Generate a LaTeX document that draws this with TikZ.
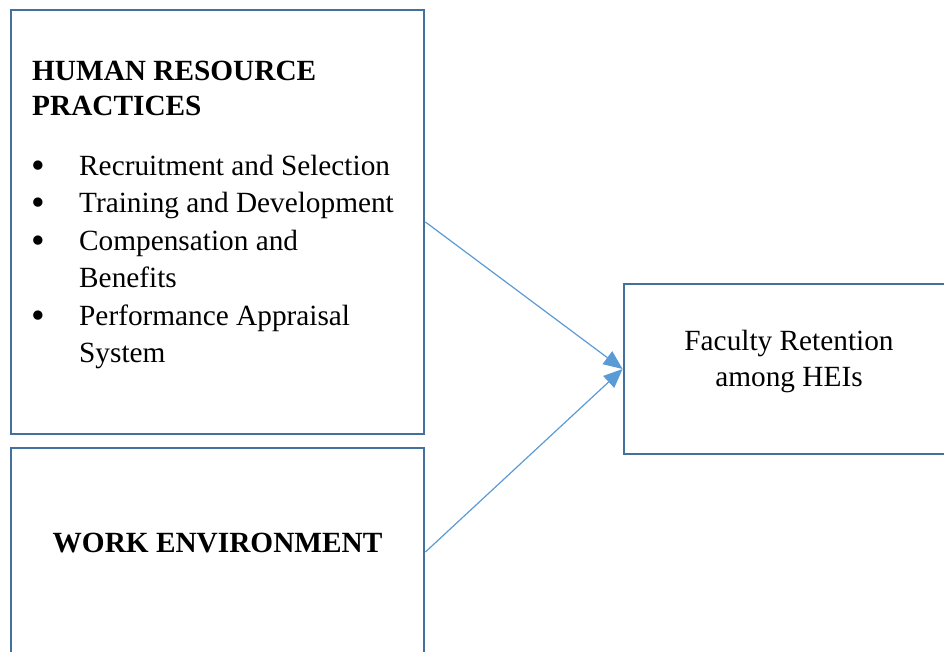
\documentclass[tikz,border=0pt]{standalone}
\usepackage{fontspec}
\setmainfont{Liberation Serif}
\usetikzlibrary{arrows.meta}
\definecolor{boxline}{HTML}{41719C}
\definecolor{arrowblue}{HTML}{5B9BD5}
\begin{document}
\begin{tikzpicture}[x=1pt,y=-1pt,
  panel/.style={draw=boxline,line width=2.8pt,rectangle,inner sep=0pt,fill=none},
  txt/.style={inner sep=0pt,font=\fontsize{29.3}{37}\selectfont},
  head/.style={txt,font=\fontsize{29.3}{37}\selectfont\bfseries},
  bullet/.style={inner sep=0pt,font=\fontsize{39}{37}\selectfont},
  link/.style={draw=arrowblue,line width=1.2pt,-{Triangle[length=19pt,width=16pt]}}]
\useasboundingbox (0,0) rectangle (944,651);
\clip (0,0) rectangle (944,651);
% boxes
\node[panel,minimum width=413pt,minimum height=424pt] (hrp) at (217.5,222) {};
\node[panel,minimum width=413pt,minimum height=208pt] (we) at (217.5,552) {};
\node[panel,minimum width=330pt,minimum height=170pt] (fr) at (789,369) {};
% human resource practices
\node[head,anchor=base west] (h1) at (32,80) {HUMAN RESOURCE};
\node[head,anchor=base west] (h2) at (32,115) {PRACTICES};
\foreach \y/\t [count=\i] in {175/Recruitment and Selection,212.5/Training and Development,250/Compensation and,287.5/Benefits,325/Performance Appraisal,362/System}{
  \node[txt,anchor=base west] (item\i) at (79,\y) {\t};
}
\foreach \y [count=\i] in {175,212.5,250,325}{
  \node[bullet,anchor=base] (dot\i) at (38,\y+3) {•};
}
% work environment
\node[head,anchor=base] (wt) at (217.5,552) {WORK ENVIRONMENT};
% outcome
\node[txt,anchor=base] (f1) at (789,350) {Faculty Retention};
\node[txt,anchor=base] (f2) at (789,386) {among HEIs};
% arrows
\draw[link] (hrp.east) -- (fr.west);
\draw[link] (we.east) -- (fr.west);
\end{tikzpicture}
\end{document}
